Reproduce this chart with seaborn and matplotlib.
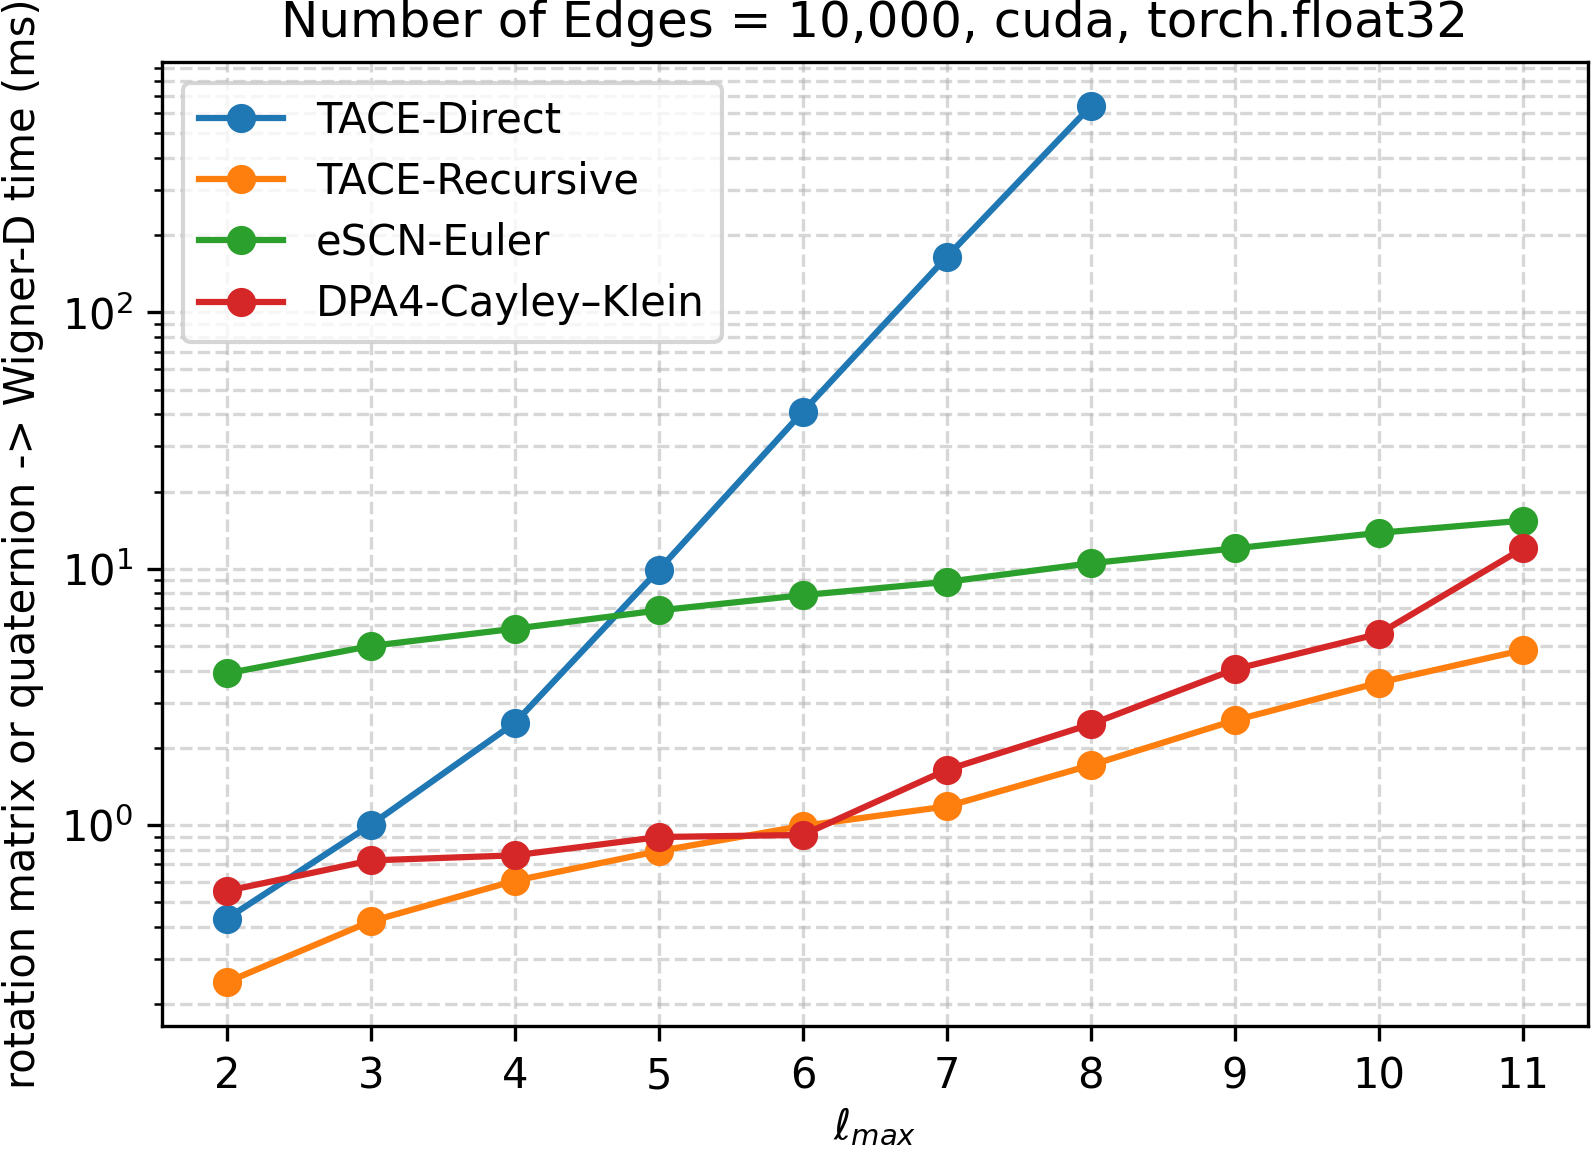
import numpy as np
import pandas as pd
import matplotlib
matplotlib.use("Agg")
import matplotlib.pyplot as plt
import seaborn as sns

# 数据 (从图中读取, ms)
lmax = [2, 3, 4, 5, 6, 7, 8, 9, 10, 11]
lmax_direct = [2, 3, 4, 5, 6, 7, 8]
tace_direct = [0.43, 1.0, 2.5, 9.9, 41.0, 165.0, 640.0]
tace_recursive = [0.243, 0.42, 0.605, 0.79, 0.99, 1.18, 1.71, 2.56, 3.59, 4.81]
escn_euler = [3.9, 4.99, 5.83, 6.87, 7.88, 8.88, 10.5, 12.0, 13.8, 15.4]
dpa4_ck = [0.552, 0.726, 0.76, 0.896, 0.913, 1.64, 2.47, 4.05, 5.57, 12.0]

series = [
    ("TACE-Direct", lmax_direct, tace_direct, "tab:blue"),
    ("TACE-Recursive", lmax, tace_recursive, "tab:orange"),
    ("eSCN-Euler", lmax, escn_euler, "tab:green"),
    ("DPA4-Cayley\u2013Klein", lmax, dpa4_ck, "tab:red"),
]

fig, ax = plt.subplots(figsize=(1591 / 300, 1151 / 300), dpi=300)
fig.subplots_adjust(left=0.1018, right=0.998, bottom=0.1086, top=0.946)

for name, xs, ys, c in series:
    df = pd.DataFrame({"lmax": xs, "time": ys})
    sns.lineplot(data=df, x="lmax", y="time", marker="o", color=c, label=name,
                 markersize=6, markeredgewidth=1, markeredgecolor=c,
                 linewidth=1.5, ax=ax)

ax.set_yscale("log")
ax.set_xticks(lmax)
ax.grid(True, which="both", linestyle="--", alpha=0.5)
ax.set_xlabel(r"$\ell_{max}$", fontsize=10, labelpad=2)
ax.set_ylabel("rotation matrix or quaternion -> Wigner-D time (ms)", fontsize=10)
ax.set_title("Number of Edges = 10,000, cuda, torch.float32", fontsize=12)
ax.tick_params(labelsize=10)
ax.legend(loc="upper left", fontsize=10, labelspacing=0.46)

fig.savefig("out.png", dpi=300)
